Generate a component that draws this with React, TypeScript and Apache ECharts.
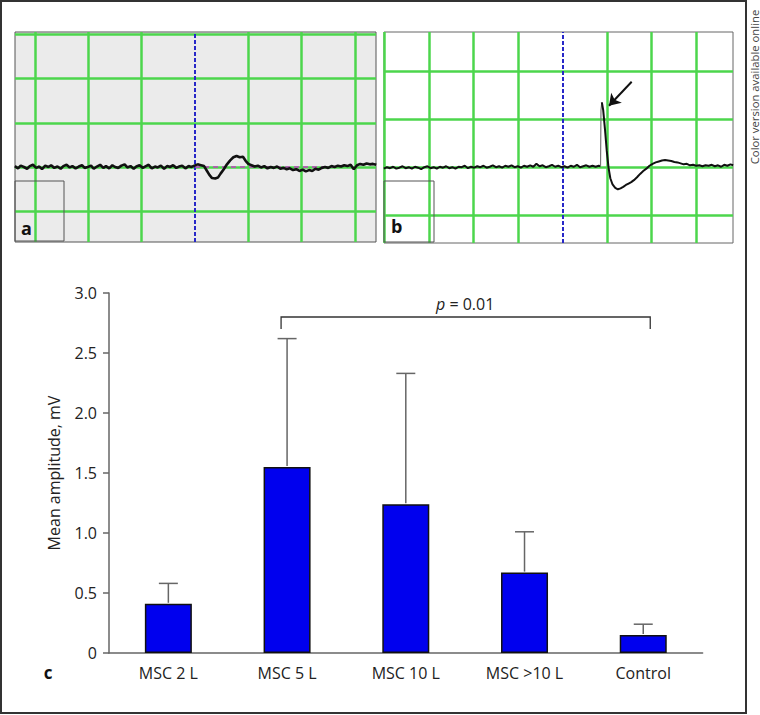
import React, { useEffect, useRef } from "react";
import * as echarts from "echarts";

// ---------- panel c data ----------
const categories = ["MSC 2 L", "MSC 5 L", "MSC 10 L", "MSC >10 L", "Control"];
const meanAmplitude = [0.41, 1.55, 1.24, 0.67, 0.15];
const sdAmplitude = [0.17, 1.07, 1.09, 0.34, 0.09];
const bracketPair = [1, 4];
const bracketLevels = [2.8, 2.7];
const pValueText = "0.01";

// ---------- panel a/b traces (x, y in screen divisions) ----------
const traceA: [number, number][] = [
  [-3.38, 0.02], [-3.32, -0.03], [-3.27, 0.03], [-3.21, 0.0], [-3.15, -0.04], [-3.1, 0.02],
  [-3.04, 0.05], [-2.98, -0.02], [-2.92, 0.01], [-2.87, -0.05], [-2.81, 0.03], [-2.75, 0.0],
  [-2.7, 0.04], [-2.64, -0.02], [-2.58, 0.01], [-2.52, -0.04], [-2.47, 0.02], [-2.41, 0.05],
  [-2.35, -0.01], [-2.3, 0.02], [-2.24, -0.03], [-2.18, 0.01], [-2.12, 0.04], [-2.07, -0.02],
  [-2.01, 0.0], [-1.95, 0.03], [-1.9, -0.04], [-1.84, 0.01], [-1.78, 0.05], [-1.72, -0.02],
  [-1.67, 0.02], [-1.61, -0.03], [-1.55, 0.04], [-1.5, 0.0], [-1.44, -0.02], [-1.38, 0.03],
  [-1.32, 0.06], [-1.27, -0.01], [-1.21, 0.02], [-1.15, -0.04], [-1.1, 0.01], [-1.04, 0.04],
  [-0.98, -0.02], [-0.92, 0.02], [-0.87, 0.05], [-0.81, -0.03], [-0.75, 0.01], [-0.7, -0.01],
  [-0.64, 0.03], [-0.58, -0.04], [-0.52, 0.02], [-0.47, 0.0], [-0.41, 0.04], [-0.35, -0.02],
  [-0.3, 0.01], [-0.24, 0.03], [-0.18, -0.03], [-0.12, 0.02], [-0.07, 0.0], [-0.01, 0.03],
  [0.05, 0.06], [0.11, 0.04], [0.17, 0.02], [0.22, -0.08], [0.27, -0.18], [0.32, -0.25],
  [0.38, -0.26], [0.43, -0.24], [0.48, -0.15], [0.54, -0.05], [0.6, 0.06], [0.66, 0.15],
  [0.72, 0.22], [0.78, 0.25], [0.84, 0.22], [0.9, 0.23], [0.95, 0.14], [1.0, 0.07],
  [1.06, 0.04], [1.12, 0.01], [1.18, 0.03], [1.24, -0.01], [1.3, 0.02], [1.36, -0.03],
  [1.42, 0.0], [1.48, -0.02], [1.54, 0.01], [1.6, -0.04], [1.66, -0.02], [1.72, -0.05],
  [1.78, -0.03], [1.84, -0.07], [1.9, -0.05], [1.96, -0.09], [2.02, -0.06], [2.08, -0.1],
  [2.14, -0.07], [2.2, -0.09], [2.26, -0.04], [2.32, -0.06], [2.38, -0.02], [2.44, 0.0],
  [2.5, -0.02], [2.56, 0.02], [2.62, 0.0], [2.68, 0.03], [2.74, 0.01], [2.8, 0.04],
  [2.86, 0.02], [2.92, 0.05], [2.98, -0.05], [3.04, 0.04], [3.1, 0.07], [3.16, 0.05],
  [3.22, 0.08], [3.28, 0.06], [3.34, 0.07], [3.4, 0.05],
];

const traceBBefore: [number, number][] = [
  [-4.02, -0.02], [-3.95, 0.01], [-3.88, -0.01], [-3.81, 0.02], [-3.74, -0.02], [-3.67, 0.0],
  [-3.6, 0.03], [-3.53, -0.01], [-3.46, 0.01], [-3.39, -0.02], [-3.32, 0.02], [-3.25, 0.0],
  [-3.18, -0.03], [-3.11, 0.01], [-3.04, 0.03], [-2.97, -0.01], [-2.9, 0.01], [-2.83, -0.02],
  [-2.76, 0.02], [-2.69, 0.0], [-2.62, 0.03], [-2.55, -0.01], [-2.48, 0.01], [-2.41, -0.02],
  [-2.34, 0.02], [-2.27, 0.01], [-2.2, 0.04], [-2.13, -0.01], [-2.06, 0.02], [-1.99, 0.0],
  [-1.92, 0.03], [-1.85, 0.01], [-1.78, 0.04], [-1.71, 0.0], [-1.64, 0.02], [-1.57, 0.05],
  [-1.5, 0.01], [-1.43, 0.03], [-1.36, 0.0], [-1.29, 0.04], [-1.22, 0.02], [-1.15, 0.05],
  [-1.08, 0.01], [-1.01, 0.03], [-0.94, 0.0], [-0.87, 0.04], [-0.8, 0.02], [-0.73, 0.05],
  [-0.66, 0.02], [-0.59, 0.08], [-0.52, 0.03], [-0.45, 0.05], [-0.38, 0.01], [-0.31, 0.03],
  [-0.24, 0.06], [-0.17, 0.02], [-0.1, 0.04], [-0.03, 0.01], [0.04, 0.03], [0.11, 0.0],
  [0.18, 0.04], [0.25, 0.02], [0.32, 0.06], [0.39, 0.01], [0.46, 0.03], [0.53, 0.05],
  [0.6, 0.02], [0.67, 0.04], [0.74, 0.02], [0.81, 0.04], [0.85, 0.03],
];
// fast rising edge of the evoked potential (drawn thin, as in the original)
const traceBRise: [number, number][] = [[0.85, 0.03], [0.86, 1.2], [0.88, 1.36]];
const traceBAfter: [number, number][] = [
  [0.88, 1.36], [0.91, 1.2], [0.95, 0.8], [0.99, 0.35], [1.03, 0.0], [1.07, -0.22],
  [1.12, -0.35], [1.18, -0.42], [1.24, -0.45], [1.3, -0.43], [1.36, -0.4], [1.42, -0.36],
  [1.48, -0.33], [1.54, -0.3], [1.6, -0.26], [1.67, -0.2], [1.74, -0.13], [1.81, -0.07],
  [1.88, -0.02], [1.95, 0.04], [2.02, 0.08], [2.09, 0.11], [2.16, 0.13], [2.23, 0.15],
  [2.3, 0.16], [2.37, 0.15], [2.44, 0.14], [2.51, 0.12], [2.58, 0.11], [2.65, 0.09],
  [2.72, 0.07], [2.79, 0.08], [2.86, 0.05], [2.93, 0.06], [3.0, 0.04], [3.07, 0.05],
  [3.14, 0.03], [3.21, 0.05], [3.28, 0.04], [3.35, 0.06], [3.42, 0.03], [3.49, 0.05],
  [3.56, 0.02], [3.63, 0.06], [3.7, 0.04], [3.77, 0.07], [3.83, 0.05],
];

const gridAX = [-3, -2, -1, 1, 2, 3];
const gridAY = [-1, 0, 1, 2, 3];
const gridBX = [-4, -3, -2, -1, 1, 2, 3];
const gridBY = [-1, 0, 1, 2];
const triggerX = 0;
const baselineA: [number, number][] = [[0, 0], [2.6, 0]];
const arrowB: [number, number][] = [[1.55, 1.79], [1.04, 1.29]];

const FONT = "Open Sans";
const GREEN = { color: "#4cd64c", width: 2.5, type: "solid" as const };
const BLUE = { color: "#2828c8", width: 2, type: [4, 2] as any };

function gridLineSeries(xi: number, xs: number[], ys: number[], extra: any[] = []) {
  return {
    type: "line",
    xAxisIndex: xi,
    yAxisIndex: xi,
    data: [],
    silent: true,
    z: 1,
    markLine: {
      silent: true,
      z: 1,
      symbol: ["none", "none"],
      label: { show: false },
      emphasis: { disabled: true },
      data: [
        ...ys.map((v) => ({ yAxis: v, lineStyle: GREEN })),
        ...xs.map((v) => ({ xAxis: v, lineStyle: GREEN })),
        { xAxis: triggerX, lineStyle: BLUE },
        ...extra,
      ],
    },
  };
}

function traceSeries(xi: number, data: [number, number][], color: string, width: number) {
  return {
    type: "line",
    xAxisIndex: xi,
    yAxisIndex: xi,
    data,
    symbol: "none",
    silent: true,
    z: 10,
    lineStyle: { color, width },
  };
}

export default function App() {
  const ref = useRef<HTMLDivElement>(null);
  useEffect(() => {
    document.body.style.margin = "0";
    const chart = echarts.init(ref.current!, undefined, { renderer: "svg" });
    const option: any = {
      animation: false,
      backgroundColor: "#ffffff",
      textStyle: { fontFamily: FONT },
      grid: [
        { left: 15, top: 32, width: 361, height: 210, show: true, backgroundColor: "#ebebeb", borderColor: "#555", borderWidth: 1 },
        { left: 384, top: 32, width: 349, height: 211, show: true, backgroundColor: "#ffffff", borderColor: "#666", borderWidth: 1 },
        { left: 109, top: 293, width: 593.6, height: 360 },
      ],
      xAxis: [
        { gridIndex: 0, type: "value", min: -3.377, max: 3.396, show: false },
        { gridIndex: 1, type: "value", min: -4.016, max: 3.827, show: false },
        {
          gridIndex: 2,
          type: "category",
          data: categories,
          axisLine: { lineStyle: { color: "#666", width: 1.5 } },
          axisTick: { length: 6, lineStyle: { color: "#666", width: 1.5 } },
          axisLabel: { color: "#222", fontSize: 16, fontFamily: FONT, margin: 12 },
        },
      ],
      yAxis: [
        { gridIndex: 0, type: "value", min: -1.697, max: 3.054, show: false },
        { gridIndex: 1, type: "value", min: -1.569, max: 2.827, show: false },
        {
          gridIndex: 2,
          type: "value",
          min: 0,
          max: 3,
          interval: 0.5,
          axisLine: { show: true, lineStyle: { color: "#666", width: 1.5 } },
          axisTick: { show: true, length: 6, lineStyle: { color: "#666", width: 1.5 } },
          splitLine: { show: false },
          axisLabel: {
            color: "#222",
            fontSize: 16,
            fontFamily: FONT,
            margin: 12,
            formatter: (v: number) => (v === 0 ? "0" : v.toFixed(1)),
          },
          name: "Mean amplitude, mV",
          nameLocation: "middle",
          nameGap: 47,
          nameTextStyle: { color: "#222", fontSize: 16, fontFamily: FONT },
        },
      ],
      series: [
        gridLineSeries(0, gridAX, gridAY, [
          [
            { coord: baselineA[0], lineStyle: { color: "#c040c0", width: 1.5, type: [5, 4] } },
            { coord: baselineA[1] },
          ],
        ]),
        traceSeries(0, traceA, "#111", 2.6),
        gridLineSeries(1, gridBX, gridBY),
        traceSeries(1, traceBBefore, "#111", 2),
        traceSeries(1, traceBRise, "#777", 1.2),
        {
          ...traceSeries(1, traceBAfter, "#111", 2),
          markLine: {
            silent: true,
            z: 12,
            symbol: ["none", "arrow"],
            symbolSize: 11,
            label: { show: false },
            lineStyle: { color: "#111", width: 2, type: "solid" },
            data: [[{ coord: arrowB[0] }, { coord: arrowB[1] }]],
          },
        },
        {
          type: "bar",
          xAxisIndex: 2,
          yAxisIndex: 2,
          data: meanAmplitude,
          barWidth: 47,
          silent: true,
          itemStyle: { color: "#0000ee", borderColor: "#111", borderWidth: 1.5 },
        },
        {
          type: "custom",
          xAxisIndex: 2,
          yAxisIndex: 2,
          silent: true,
          z: 5,
          data: meanAmplitude.map((m, i) => [i, m, m + sdAmplitude[i]]),
          encode: { x: 0, y: [1, 2] },
          renderItem: (_p: any, api: any) => {
            const i = api.value(0);
            const p0 = api.coord([i, api.value(1)]);
            const p1 = api.coord([i, api.value(2)]);
            const cap = 9.5;
            const st = { stroke: "#666", lineWidth: 1.5 };
            return {
              type: "group",
              children: [
                { type: "line", shape: { x1: p0[0], y1: p0[1] - 1, x2: p1[0], y2: p1[1] }, style: st },
                { type: "line", shape: { x1: p1[0] - cap, y1: p1[1], x2: p1[0] + cap, y2: p1[1] }, style: st },
              ],
            };
          },
        },
        {
          type: "custom",
          xAxisIndex: 2,
          yAxisIndex: 2,
          silent: true,
          z: 5,
          data: [[bracketPair[0], bracketPair[1], bracketLevels[0], bracketLevels[1]]],
          encode: { x: [0, 1], y: [2, 3] },
          renderItem: (_p: any, api: any) => {
            const pL = api.coord([api.value(0), api.value(2)]);
            const pR = api.coord([api.value(1), api.value(2)]);
            const legY = api.coord([api.value(0), api.value(3)])[1];
            const xl = pL[0] - 6;
            const xr = pR[0] + 7;
            return {
              type: "group",
              children: [
                {
                  type: "polyline",
                  shape: { points: [[xl, legY], [xl, pL[1]], [xr, pR[1]], [xr, legY]] },
                  style: { stroke: "#333", lineWidth: 1.3, fill: "none" },
                },
                {
                  type: "text",
                  style: {
                    x: (pL[0] + pR[0]) / 2,
                    y: pL[1] - 13,
                    text: "{i|p} = " + pValueText,
                    align: "center",
                    verticalAlign: "middle",
                    fontSize: 16,
                    fontFamily: FONT,
                    fill: "#222",
                    rich: {
                      i: { fontStyle: "italic", fontSize: 16, fontFamily: FONT, fill: "#222" },
                    },
                  },
                },
              ],
            };
          },
        },
      ],
      graphic: [
        { type: "rect", silent: true, z: 100, shape: { x: 1, y: 1, width: 745, height: 712 }, style: { fill: "none", stroke: "#333", lineWidth: 2 } },
        { type: "rect", silent: true, z: 100, shape: { x: 15, y: 181, width: 49, height: 60 }, style: { fill: "none", stroke: "#555", lineWidth: 1 } },
        { type: "rect", silent: true, z: 100, shape: { x: 384, y: 181, width: 50, height: 61 }, style: { fill: "none", stroke: "#555", lineWidth: 1 } },
        { type: "text", silent: true, z: 100, x: 21, y: 228, style: { text: "a", fontSize: 18, fontWeight: "bold", fontFamily: FONT, fill: "#111", align: "left", verticalAlign: "middle" } },
        { type: "text", silent: true, z: 100, x: 391, y: 226, style: { text: "b", fontSize: 18, fontWeight: "bold", fontFamily: FONT, fill: "#111", align: "left", verticalAlign: "middle" } },
        { type: "text", silent: true, z: 100, x: 48, y: 672, style: { text: "c", fontSize: 17, fontWeight: "bold", fontFamily: FONT, fill: "#111", align: "center", verticalAlign: "middle" } },
        { type: "text", silent: true, z: 100, x: 754, y: 87, rotation: Math.PI / 2, style: { text: "Color version available online", fontSize: 11.3, fontFamily: FONT, fill: "#444", align: "center", verticalAlign: "middle" } },
      ],
    };
    chart.setOption(option);
    return () => chart.dispose();
  }, []);
  return <div ref={ref} style={{ width: 760, height: 715 }} />;
}
